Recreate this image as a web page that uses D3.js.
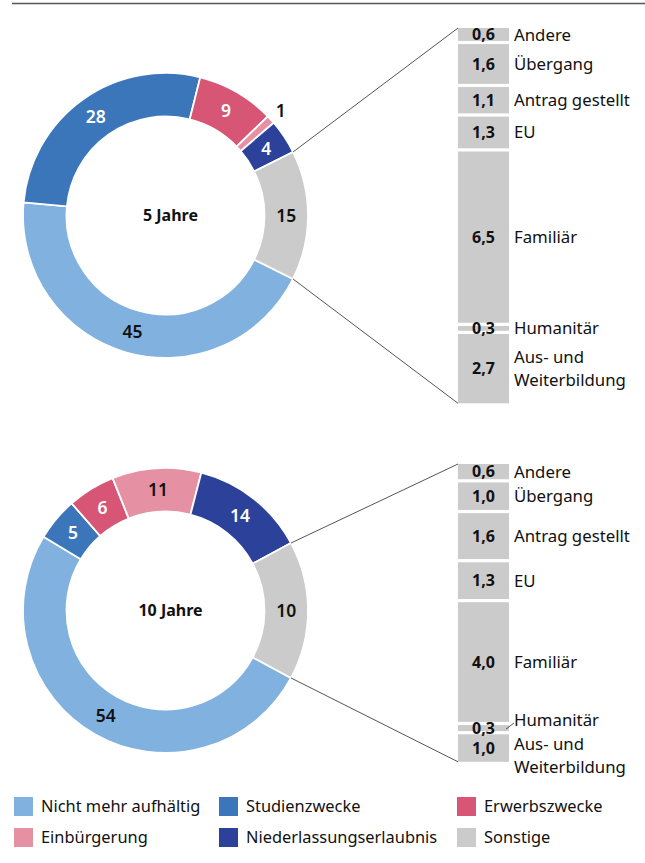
<!DOCTYPE html>
<html>
<head>
<meta charset="utf-8">
<script src="https://cdn.jsdelivr.net/npm/d3@7"></script>
<style>
  body { margin: 0; background: #fff; }
  svg { font-family: "Noto Sans", "Open Sans", sans-serif; }
  .lbl { font-size: 17.5px; font-weight: 600; }
  .val { font-size: 16px; font-weight: 700; fill: #111; }
  .cat { font-size: 16.8px; fill: #111; }
  .leg { font-size: 16.4px; fill: #111; }
  .title { font-size: 16px; font-weight: 700; fill: #111; }
</style>
</head>
<body>
<div id="chart"></div>
<script>
const categories = ['Nicht mehr aufhältig', 'Studienzwecke', 'Erwerbszwecke',
                    'Einbürgerung', 'Niederlassungserlaubnis', 'Sonstige'];
const colors = ['#80b1df', '#3b75ba', '#d75675', '#e690a3', '#2c419a', '#cbcbcb'];

// 5 Jahre: printed labels, arcs drawn from them
const share5 = [45, 28, 9, 1, 4, 15];
const labels5 = ['45', '28', '9', '1', '4', '15'];
// 10 Jahre: arc sizes as drawn in the picture, printed labels differ
const share10 = [50.8, 4.9, 5.4, 10.1, 13.1, 15.7];
const labels10 = ['54', '5', '6', '11', '14', '10'];

const subCategories = ['Andere', 'Übergang', 'Antrag gestellt', 'EU', 'Familiär',
                       'Humanitär', 'Aus- und|Weiterbildung'];
const sub5 = [0.6, 1.6, 1.1, 1.3, 6.5, 0.3, 2.7];
const sub10 = [0.6, 1.0, 1.6, 1.3, 4.0, 0.3, 1.0];

const width = 645, height = 863;
const innerR = 99, outerR = 142.5;
const barX = 458, barW = 51, gap = 3.2;

const svg = d3.select('#chart').append('svg')
    .attr('width', width)
    .attr('height', height);

// top rule
svg.append('line')
    .attr('x1', 12).attr('x2', width)
    .attr('y1', 3.5).attr('y2', 3.5)
    .attr('stroke', '#555').attr('stroke-width', 1.3);

const fmt = v => d3.format('.1f')(v).replace('.', ',');

function drawPanel(opts) {
    const g = svg.append('g');
    const cx = opts.cx, cy = opts.cy;
    const total = d3.sum(opts.share);
    const last = opts.share[opts.share.length - 1];
    const start = Math.PI / 2 + (last / total) * Math.PI;

    const pie = d3.pie().sort(null)
        .startAngle(start).endAngle(start + 2 * Math.PI);
    const arcs = pie(opts.share);
    const arc = d3.arc().innerRadius(innerR).outerRadius(outerR);
    const mid = d3.arc().innerRadius((innerR + outerR) / 2).outerRadius((innerR + outerR) / 2);
    const outside = d3.arc().innerRadius(156).outerRadius(156);
    const isSmall = d => d.endAngle - d.startAngle < 0.15;

    const dg = g.append('g').attr('transform', `translate(${cx},${cy})`);
    dg.selectAll('path')
        .data(arcs)
        .join('path')
        .attr('d', arc)
        .attr('fill', (d, i) => colors[i])
        .attr('stroke', '#fff')
        .attr('stroke-width', 1.8);

    dg.selectAll('text.lbl')
        .data(arcs)
        .join('text')
        .classed('lbl', true)
        .attr('transform', d => `translate(${(isSmall(d) ? outside : mid).centroid(d)})`)
        .attr('text-anchor', 'middle')
        .attr('dy', '0.36em')
        .attr('fill', (d, i) => (!isSmall(d) && [1, 2, 4].includes(i)) ? '#fff' : '#111')
        .text((d, i) => opts.labels[i]);

    dg.append('text')
        .classed('title', true)
        .attr('x', 5)
        .attr('text-anchor', 'middle')
        .attr('dy', '0.36em')
        .text(opts.title);

    // stacked bar for "Sonstige"
    const subTotal = d3.sum(opts.sub);
    const y = d3.scaleLinear().domain([0, subTotal]).range([opts.barTop, opts.barBottom]);
    let acc = 0;
    const segs = opts.sub.map((v, i) => {
        const s = { v, name: subCategories[i], y0: y(acc), y1: y(acc + v) - gap };
        acc += v;
        return s;
    });

    g.selectAll('rect.seg')
        .data(segs)
        .join('rect')
        .attr('x', barX)
        .attr('width', barW)
        .attr('y', d => d.y0)
        .attr('height', d => d.y1 - d.y0)
        .attr('fill', '#cbcbcb');

    g.selectAll('text.val')
        .data(segs)
        .join('text')
        .classed('val', true)
        .attr('x', barX + barW / 2)
        .attr('y', d => (d.y0 + d.y1) / 2)
        .attr('dy', '0.36em')
        .attr('text-anchor', 'middle')
        .text(d => fmt(d.v));

    // category labels, pushed up when they collide
    const lineH = 23, minGap = 24;
    segs.forEach(d => {
        d.lines = d.name.split('|');
        const c = (d.y0 + d.y1) / 2;
        const blockH = (d.lines.length - 1) * lineH;
        if (d.lines.length === 1) d.ly = c;
        else d.ly = (d.y1 - d.y0 > blockH + lineH) ? c - blockH / 2 : c - 4;
        d.natural = d.ly;
        d.base = c;
    });
    for (let i = segs.length - 2; i >= 0; i--) {
        const limit = segs[i + 1].ly - minGap;
        if (segs[i].ly > limit) segs[i].ly = limit;
    }

    segs.forEach(d => {
        const t = g.append('text')
            .classed('cat', true)
            .attr('x', barX + barW + 5)
            .attr('y', d.ly);
        d.lines.forEach((l, k) => {
            t.append('tspan')
                .attr('x', barX + barW + 5)
                .attr('dy', k === 0 ? '0.36em' : lineH)
                .text(l);
        });
        if (d.natural - d.ly > 4) {
            g.append('line')
                .attr('x1', barX + barW - 3).attr('y1', d.base + 1)
                .attr('x2', barX + barW + 5).attr('y2', d.ly + 3)
                .attr('stroke', '#333').attr('stroke-width', 0.8);
        }
    });

    // connector lines from the Sonstige slice to the bar
    const sl = arcs[arcs.length - 1];
    const pt = a => [cx + outerR * Math.sin(a), cy - outerR * Math.cos(a)];
    const p0 = pt(sl.startAngle), p1 = pt(sl.endAngle);
    g.append('line')
        .attr('x1', p0[0]).attr('y1', p0[1])
        .attr('x2', barX).attr('y2', segs[0].y0)
        .attr('stroke', '#555').attr('stroke-width', 1);
    g.append('line')
        .attr('x1', p1[0]).attr('y1', p1[1])
        .attr('x2', barX).attr('y2', segs[segs.length - 1].y1)
        .attr('stroke', '#555').attr('stroke-width', 1);
}

drawPanel({ cx: 165.5, cy: 215.5, share: share5, labels: labels5, title: '5 Jahre',
            sub: sub5, barTop: 28, barBottom: 406.5 });
drawPanel({ cx: 165.5, cy: 610.5, share: share10, labels: labels10, title: '10 Jahre',
            sub: sub10, barTop: 464, barBottom: 765 });

// legend
const colX = [14, 219, 457], rowY = [797, 828];
const leg = svg.append('g')
    .selectAll('g')
    .data(categories)
    .join('g')
    .attr('transform', (d, i) => `translate(${colX[i % 3]},${rowY[Math.floor(i / 3)]})`);
leg.append('rect')
    .attr('width', 19).attr('height', 19)
    .attr('fill', (d, i) => colors[i]);
leg.append('text')
    .classed('leg', true)
    .attr('x', 27)
    .attr('y', 9.5)
    .attr('dy', '0.36em')
    .text(d => d);
</script>
</body>
</html>
